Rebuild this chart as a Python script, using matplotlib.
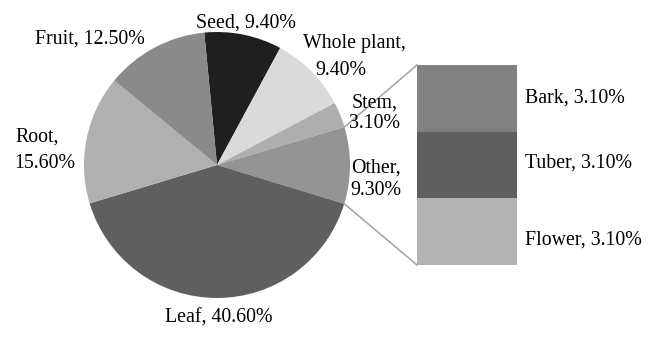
import numpy as np
from matplotlib import pyplot as plt

# ── Data ───────────────────────────────────────────────────────────────────
pie_labels = ['Seed', 'Whole plant', 'Stem', 'Other', 'Leaf', 'Root', 'Fruit']
pie_values = [9.40, 9.40, 3.10, 9.30, 40.60, 15.60, 12.50]
pie_colors = ['#1f1f1f', '#dadada', '#aeaeae', '#949494', '#5f5f5f', '#b0b0b0', '#8a8a8a']

bar_labels = ['Bark', 'Tuber', 'Flower']
bar_values = [3.10, 3.10, 3.10]
bar_colors = ['#818181', '#5f5f5f', '#b3b3b3']

plt.rcParams['font.family'] = ['Liberation Serif', 'DejaVu Serif']

W, H = 661, 340
fig = plt.figure(figsize=(W / 100, H / 100), dpi=100)
ax = fig.add_axes([0, 0, 1, 1])
ax.set_xlim(0, W)
ax.set_ylim(0, H)
ax.set_aspect('equal')
ax.axis('off')

# ── Pie ────────────────────────────────────────────────────────────────────
cx, cy, r = 217, H - 165, 133
wedges, _ = ax.pie(pie_values, colors=pie_colors, startangle=95.5,
                   counterclock=False, center=(cx, cy), radius=r,
                   wedgeprops=dict(linewidth=0), normalize=True)
ax.set_xlim(0, W)
ax.set_ylim(0, H)

# ── Bar of "Other" ─────────────────────────────────────────────────────────
bx, bw = 417, 100
bar_bottom, bar_top = H - 265, H - 65
scale = (bar_top - bar_bottom) / sum(bar_values)
bottom = bar_bottom
for lab, val, col in list(zip(bar_labels, bar_values, bar_colors))[::-1]:
    ax.bar(bx + bw / 2, val * scale, width=bw, bottom=bottom, color=col,
           linewidth=0)
    bottom += val * scale

# connector lines from the "Other" wedge edges to the bar corners
w_other = wedges[pie_labels.index('Other')]
for ang, ytarget in [(w_other.theta2, bar_top), (w_other.theta1, bar_bottom)]:
    px = cx + r * np.cos(np.radians(ang))
    py = cy + r * np.sin(np.radians(ang))
    ax.plot([px, bx], [py, ytarget], color='#a8a8a8', linewidth=1.2)

# ── Labels (positions given as pixel baselines from the top) ──────────────
fs = 14.3
def label(x, y, s, ha='left'):
    ax.text(x, H - y, s, fontsize=fs, ha=ha, va='baseline')

label(246, 28, 'Seed, 9.40%', ha='center')
label(90, 44, 'Fruit, 12.50%', ha='center')
label(354, 48, 'Whole plant,', ha='center')
label(341, 75, '9.40%', ha='center')
label(352, 108, 'Stem,')
label(349, 128, '3.10%')
label(351, 173, 'Other,')
label(350, 195, '9.30%')
label(15, 142, 'Root,')
label(14, 168, '15.60%')
label(219, 323, 'Leaf, 40.60%', ha='center')

for lab, val, yb in zip(bar_labels, bar_values, [103, 168, 245]):
    label(525, yb, f'{lab}, {val:.2f}%')

fig.savefig('out.png', dpi=100)
